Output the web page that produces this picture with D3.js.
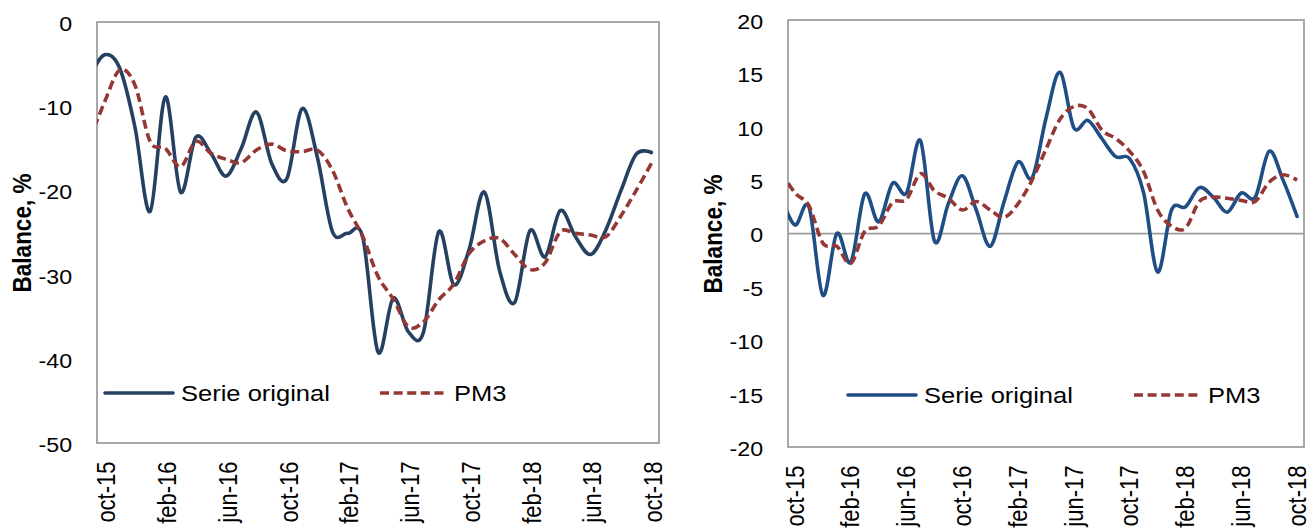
<!DOCTYPE html>
<html><head><meta charset="utf-8">
<script src="https://cdn.jsdelivr.net/npm/d3@7/dist/d3.min.js"></script>
<style>body{margin:0;background:#fff}svg{display:block}</style>
</head><body>
<svg id="c" width="1309" height="531"></svg>
<script>
// Monthly categories (sep-15 lies just left of the visible plot area and is clipped)
const months = ["sep-15","oct-15","nov-15","dic-15","ene-16","feb-16","mar-16","abr-16","may-16","jun-16","jul-16","ago-16","sep-16","oct-16","nov-16","dic-16","ene-17","feb-17","mar-17","abr-17","may-17","jun-17","jul-17","ago-17","sep-17","oct-17","nov-17","dic-17","ene-18","feb-18","mar-18","abr-18","may-18","jun-18","jul-18","ago-18","sep-18","oct-18"];
const xTickLabels = ["oct-15","feb-16","jun-16","oct-16","feb-17","jun-17","oct-17","feb-18","jun-18","oct-18"];
const yTicksLeft = [0,-10,-20,-30,-40,-50];
const yTicksRight = [20,15,10,5,0,-5,-10,-15,-20];
const seriesNames = ["Serie original","PM3"];
const axisTitle = "Balance, %";

const leftOriginal = [-6.5,-3.9,-5.5,-12.5,-22.5,-8.9,-20.2,-13.7,-15.6,-18.3,-15.0,-10.7,-16.8,-18.6,-10.3,-16.0,-24.9,-25.1,-25.6,-39.2,-32.8,-36.8,-36.8,-24.9,-31.2,-27.0,-20.2,-29.5,-33.3,-24.8,-27.9,-22.4,-25.5,-27.6,-24.7,-20.0,-15.7,-15.5];
const leftPM3 = [-14.0,-9.5,-5.7,-7.5,-14.2,-15.0,-17.2,-14.2,-15.6,-16.3,-16.7,-15.2,-14.5,-15.3,-15.4,-15.2,-17.6,-22.1,-25.5,-30.2,-32.9,-36.2,-35.6,-33.0,-31.1,-27.5,-26.0,-25.7,-27.6,-29.4,-28.6,-24.9,-25.1,-25.3,-25.5,-23.0,-20.0,-16.8];
const rightOriginal = [3.5,0.8,2.5,-5.8,0.0,-2.7,3.7,1.1,4.7,3.8,8.7,-0.7,2.8,5.4,2.2,-1.2,3.0,6.7,5.2,10.8,15.1,9.9,10.6,8.9,7.2,7.0,3.8,-3.6,2.2,2.5,4.3,3.4,2.0,3.8,3.4,7.7,5.0,1.6];
const rightPM3 = [5.8,3.8,2.6,-0.9,-1.2,-2.8,0.2,0.7,2.9,3.2,5.6,4.0,3.3,2.2,3.0,2.2,1.5,2.8,5.0,7.9,10.7,11.9,11.7,9.7,8.9,7.7,5.8,2.2,0.7,0.5,3.0,3.4,3.3,3.1,3.0,4.8,5.5,5.0];

const svg = d3.select('#c');
const SX = 1.16;
const FONT = "'Liberation Sans', Arial, Helvetica, sans-serif";
const GRAY = "#9c9c9c";
const PM3_COLOR = "#953735";

function panel(cfg){
  const g = svg.append('g');
  const x = d3.scaleLinear().domain([0.5, months.length - 0.5]).range([cfg.left, cfg.right]);
  const y = d3.scaleLinear().domain(cfg.domain).range([cfg.bottom, cfg.top]);

  // plot border
  g.append('rect').attr('x', cfg.left).attr('y', cfg.top)
    .attr('width', cfg.right - cfg.left).attr('height', cfg.bottom - cfg.top)
    .attr('fill', 'none').attr('stroke', GRAY).attr('stroke-width', 1.75);

  if (cfg.zeroLine) {
    g.append('line').attr('x1', cfg.left).attr('x2', cfg.right)
      .attr('y1', y(0)).attr('y2', y(0)).attr('stroke', GRAY).attr('stroke-width', 1.75);
  }

  // y axis
  const ya = g.append('g').attr('transform', `translate(${cfg.left},0)`)
    .call(d3.axisLeft(y).tickValues(cfg.ticks).tickSize(0).tickPadding(cfg.tickPad).tickFormat(d => String(d)));
  ya.select('.domain').remove();
  ya.selectAll('text').attr('font-family', FONT).attr('font-size', 20).attr('fill', '#000')
    .attr('dy', '0.42em')
    .attr('transform', `scale(${SX},1)`);

  // x axis
  const idx = xTickLabels.map(l => months.indexOf(l));
  const xa = g.append('g').attr('transform', `translate(0,${cfg.bottom})`)
    .call(d3.axisBottom(x).tickValues(idx).tickSize(0).tickFormat(i => months[i]));
  xa.select('.domain').remove();
  xa.selectAll('text').attr('font-family', FONT).attr('font-size', 22).attr('fill', '#000')
    .attr('x', 0).attr('y', 0).attr('dy', '0.36em')
    .attr('text-anchor', 'end')
    .attr('transform', `translate(${cfg.xLabDx},18.5) scale(${SX},1) rotate(-90)`);

  // axis title
  g.append('text').attr('font-family', FONT).attr('font-size', 22.5).attr('font-weight', 'bold')
    .attr('text-anchor', 'middle').attr('fill', '#000')
    .attr('transform', `translate(${cfg.titleX},${cfg.titleY}) scale(${SX},1) rotate(-90)`)
    .text(axisTitle);

  // clip
  const clipId = 'clip-' + cfg.id;
  svg.append('clipPath').attr('id', clipId).append('rect')
    .attr('x', cfg.left).attr('y', cfg.top).attr('width', cfg.right - cfg.left).attr('height', cfg.bottom - cfg.top);

  const line = d3.line().x((d, i) => x(i)).y(d => y(d)).curve(d3.curveCardinal.tension(0));
  const lg = g.append('g').attr('clip-path', `url(#${clipId})`);
  lg.append('path').datum(cfg.orig).attr('d', line).attr('fill', 'none')
    .attr('stroke', cfg.origColor).attr('stroke-width', 3.6).attr('stroke-linejoin', 'round').attr('stroke-linecap', 'round');
  lg.append('path').datum(cfg.pm3).attr('d', line).attr('fill', 'none')
    .attr('stroke', PM3_COLOR).attr('stroke-width', 3.6).attr('stroke-dasharray', '9,4.6');

  // legend
  const L = cfg.legend;
  g.append('line').attr('x1', L.x1).attr('x2', L.x1 + 68).attr('y1', L.y).attr('y2', L.y)
    .attr('stroke', cfg.origColor).attr('stroke-width', 3.6).attr('stroke-linecap', 'round');
  g.append('text').attr('font-family', FONT).attr('font-size', 22).attr('fill', '#000')
    .attr('transform', `translate(${L.x1 + 76},${L.y + 7.5}) scale(${SX},1)`).text(seriesNames[0]);
  g.append('line').attr('x1', L.x2).attr('x2', L.x2 + 68).attr('y1', L.y).attr('y2', L.y)
    .attr('stroke', PM3_COLOR).attr('stroke-width', 3.6).attr('stroke-dasharray', '9,4.6');
  g.append('text').attr('font-family', FONT).attr('font-size', 22).attr('fill', '#000')
    .attr('transform', `translate(${L.x2 + 74},${L.y + 7.5}) scale(${SX},1)`).text(seriesNames[1]);
}

panel({id:'l', left:97, right:659, top:22, bottom:443, domain:[-50,0], ticks:yTicksLeft,
  orig:leftOriginal, pm3:leftPM3, origColor:'#254061', tickPad:21.5, titleX:31, titleY:233,
  legend:{x1:105, x2:380, y:393}, zeroLine:false, xLabDx:1});
panel({id:'r', left:788, right:1304, top:20, bottom:447, domain:[-20,20], ticks:yTicksRight,
  orig:rightOriginal, pm3:rightPM3, origColor:'#1f4e85', tickPad:21.5, titleX:722, titleY:234,
  legend:{x1:848, x2:1134, y:395}, zeroLine:true, xLabDx:-1});
</script>
</body></html>
